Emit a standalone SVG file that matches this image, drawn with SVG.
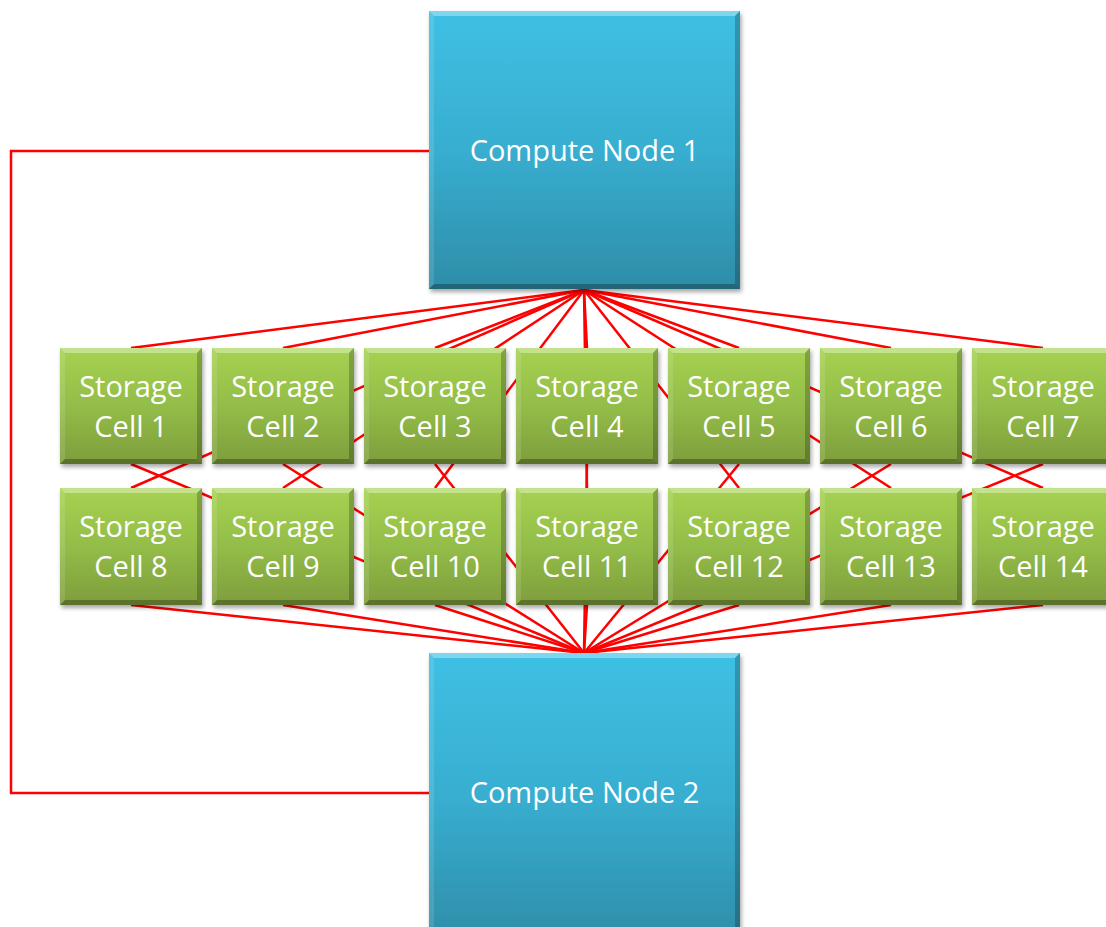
<svg xmlns="http://www.w3.org/2000/svg" width="1106" height="927" viewBox="0 0 1106 927">
<style>
.wire{stroke:#ff0000;stroke-width:2.5;fill:none;stroke-linecap:butt}
.lbl{font-family:"Open Sans","Liberation Sans",sans-serif;font-size:29px;fill:#ffffff;text-anchor:middle}
.cn{fill:url(#gBlue);filter:url(#sh)}
.sc{fill:url(#gGreen);filter:url(#sh)}
.hiT{fill:#ffffff;opacity:0.35}
.hiL{fill:#ffffff;opacity:0.12}
.shR{fill:#000000;opacity:0.22}
.shB{fill:#000000;opacity:0.28}
</style>
<defs>
<linearGradient id="gBlue" x1="0" y1="0" x2="0" y2="1">
<stop offset="0" stop-color="#3ec0e4"/>
<stop offset="0.5" stop-color="#38aed0"/>
<stop offset="1" stop-color="#2e8da8"/>
</linearGradient>
<linearGradient id="gGreen" x1="0" y1="0" x2="0" y2="1">
<stop offset="0" stop-color="#a6d252"/>
<stop offset="0.5" stop-color="#93bd48"/>
<stop offset="1" stop-color="#7e9d3c"/>
</linearGradient>
<filter id="sh" x="-10%" y="-10%" width="120%" height="125%">
<feDropShadow dx="1.5" dy="3" stdDeviation="2" flood-color="#000" flood-opacity="0.35"/>
</filter>
</defs>
<rect width="1106" height="927" fill="#ffffff"/>
<g id="connectors">
<polyline class="wire" points="429,151 11,151 11,793 429,793"/>
<g id="top-fan">
<line class="wire" x1="584" y1="290" x2="131" y2="348"/>
<line class="wire" x1="584" y1="290" x2="283" y2="348"/>
<line class="wire" x1="584" y1="290" x2="435" y2="348"/>
<line class="wire" x1="584" y1="290" x2="587" y2="348"/>
<line class="wire" x1="584" y1="290" x2="739" y2="348"/>
<line class="wire" x1="584" y1="290" x2="891" y2="348"/>
<line class="wire" x1="584" y1="290" x2="1043" y2="348"/>
<line class="wire" x1="584" y1="290" x2="131" y2="488"/>
<line class="wire" x1="584" y1="290" x2="283" y2="488"/>
<line class="wire" x1="584" y1="290" x2="435" y2="488"/>
<line class="wire" x1="584" y1="290" x2="587" y2="488"/>
<line class="wire" x1="584" y1="290" x2="739" y2="488"/>
<line class="wire" x1="584" y1="290" x2="891" y2="488"/>
<line class="wire" x1="584" y1="290" x2="1043" y2="488"/>
</g>
<g id="bottom-fan">
<line class="wire" x1="584" y1="653" x2="131" y2="464"/>
<line class="wire" x1="584" y1="653" x2="283" y2="464"/>
<line class="wire" x1="584" y1="653" x2="435" y2="464"/>
<line class="wire" x1="584" y1="653" x2="587" y2="464"/>
<line class="wire" x1="584" y1="653" x2="739" y2="464"/>
<line class="wire" x1="584" y1="653" x2="891" y2="464"/>
<line class="wire" x1="584" y1="653" x2="1043" y2="464"/>
<line class="wire" x1="584" y1="653" x2="131" y2="605"/>
<line class="wire" x1="584" y1="653" x2="283" y2="605"/>
<line class="wire" x1="584" y1="653" x2="435" y2="605"/>
<line class="wire" x1="584" y1="653" x2="587" y2="605"/>
<line class="wire" x1="584" y1="653" x2="739" y2="605"/>
<line class="wire" x1="584" y1="653" x2="891" y2="605"/>
<line class="wire" x1="584" y1="653" x2="1043" y2="605"/>
</g>
</g>
<g id="compute-node-1">
<rect class="cn" x="429" y="11" width="311" height="278"/>
<polygon class="hiT" points="429,11 740,11 735,16 434,16"/>
<polygon class="hiL" points="429,11 434,16 434,284 429,289"/>
<polygon class="shR" points="740,11 740,289 735,284 735,16"/>
<polygon class="shB" points="429,289 740,289 735,284 434,284"/>
<text class="lbl" x="584.5" y="161">Compute Node 1</text>
</g>
<g id="compute-node-2">
<rect class="cn" x="429" y="653" width="311" height="290"/>
<polygon class="hiT" points="429,653 740,653 735,658 434,658"/>
<polygon class="hiL" points="429,653 434,658 434,940 429,940"/>
<polygon class="shR" points="740,653 740,940 735,940 735,658"/>
<text class="lbl" x="584.5" y="803">Compute Node 2</text>
</g>
<g id="storage-cell-1">
<rect class="sc" x="60" y="348" width="142" height="116"/>
<polygon class="hiT" points="60,348 202,348 197,353 65,353"/>
<polygon class="hiL" points="60,348 65,353 65,459 60,464"/>
<polygon class="shR" points="202,348 202,464 197,459 197,353"/>
<polygon class="shB" points="60,464 202,464 197,459 65,459"/>
<text class="lbl" x="131" y="397">Storage</text><text class="lbl" x="131" y="437">Cell 1</text>
</g>
<g id="storage-cell-2">
<rect class="sc" x="212" y="348" width="142" height="116"/>
<polygon class="hiT" points="212,348 354,348 349,353 217,353"/>
<polygon class="hiL" points="212,348 217,353 217,459 212,464"/>
<polygon class="shR" points="354,348 354,464 349,459 349,353"/>
<polygon class="shB" points="212,464 354,464 349,459 217,459"/>
<text class="lbl" x="283" y="397">Storage</text><text class="lbl" x="283" y="437">Cell 2</text>
</g>
<g id="storage-cell-3">
<rect class="sc" x="364" y="348" width="142" height="116"/>
<polygon class="hiT" points="364,348 506,348 501,353 369,353"/>
<polygon class="hiL" points="364,348 369,353 369,459 364,464"/>
<polygon class="shR" points="506,348 506,464 501,459 501,353"/>
<polygon class="shB" points="364,464 506,464 501,459 369,459"/>
<text class="lbl" x="435" y="397">Storage</text><text class="lbl" x="435" y="437">Cell 3</text>
</g>
<g id="storage-cell-4">
<rect class="sc" x="516" y="348" width="142" height="116"/>
<polygon class="hiT" points="516,348 658,348 653,353 521,353"/>
<polygon class="hiL" points="516,348 521,353 521,459 516,464"/>
<polygon class="shR" points="658,348 658,464 653,459 653,353"/>
<polygon class="shB" points="516,464 658,464 653,459 521,459"/>
<text class="lbl" x="587" y="397">Storage</text><text class="lbl" x="587" y="437">Cell 4</text>
</g>
<g id="storage-cell-5">
<rect class="sc" x="668" y="348" width="142" height="116"/>
<polygon class="hiT" points="668,348 810,348 805,353 673,353"/>
<polygon class="hiL" points="668,348 673,353 673,459 668,464"/>
<polygon class="shR" points="810,348 810,464 805,459 805,353"/>
<polygon class="shB" points="668,464 810,464 805,459 673,459"/>
<text class="lbl" x="739" y="397">Storage</text><text class="lbl" x="739" y="437">Cell 5</text>
</g>
<g id="storage-cell-6">
<rect class="sc" x="820" y="348" width="142" height="116"/>
<polygon class="hiT" points="820,348 962,348 957,353 825,353"/>
<polygon class="hiL" points="820,348 825,353 825,459 820,464"/>
<polygon class="shR" points="962,348 962,464 957,459 957,353"/>
<polygon class="shB" points="820,464 962,464 957,459 825,459"/>
<text class="lbl" x="891" y="397">Storage</text><text class="lbl" x="891" y="437">Cell 6</text>
</g>
<g id="storage-cell-7">
<rect class="sc" x="972" y="348" width="142" height="116"/>
<polygon class="hiT" points="972,348 1114,348 1109,353 977,353"/>
<polygon class="hiL" points="972,348 977,353 977,459 972,464"/>
<polygon class="shB" points="972,464 1114,464 1109,459 977,459"/>
<text class="lbl" x="1043" y="397">Storage</text><text class="lbl" x="1043" y="437">Cell 7</text>
</g>
<g id="storage-cell-8">
<rect class="sc" x="60" y="488" width="142" height="117"/>
<polygon class="hiT" points="60,488 202,488 197,493 65,493"/>
<polygon class="hiL" points="60,488 65,493 65,600 60,605"/>
<polygon class="shR" points="202,488 202,605 197,600 197,493"/>
<polygon class="shB" points="60,605 202,605 197,600 65,600"/>
<text class="lbl" x="131" y="537">Storage</text><text class="lbl" x="131" y="577">Cell 8</text>
</g>
<g id="storage-cell-9">
<rect class="sc" x="212" y="488" width="142" height="117"/>
<polygon class="hiT" points="212,488 354,488 349,493 217,493"/>
<polygon class="hiL" points="212,488 217,493 217,600 212,605"/>
<polygon class="shR" points="354,488 354,605 349,600 349,493"/>
<polygon class="shB" points="212,605 354,605 349,600 217,600"/>
<text class="lbl" x="283" y="537">Storage</text><text class="lbl" x="283" y="577">Cell 9</text>
</g>
<g id="storage-cell-10">
<rect class="sc" x="364" y="488" width="142" height="117"/>
<polygon class="hiT" points="364,488 506,488 501,493 369,493"/>
<polygon class="hiL" points="364,488 369,493 369,600 364,605"/>
<polygon class="shR" points="506,488 506,605 501,600 501,493"/>
<polygon class="shB" points="364,605 506,605 501,600 369,600"/>
<text class="lbl" x="435" y="537">Storage</text><text class="lbl" x="435" y="577">Cell 10</text>
</g>
<g id="storage-cell-11">
<rect class="sc" x="516" y="488" width="142" height="117"/>
<polygon class="hiT" points="516,488 658,488 653,493 521,493"/>
<polygon class="hiL" points="516,488 521,493 521,600 516,605"/>
<polygon class="shR" points="658,488 658,605 653,600 653,493"/>
<polygon class="shB" points="516,605 658,605 653,600 521,600"/>
<text class="lbl" x="587" y="537">Storage</text><text class="lbl" x="587" y="577">Cell 11</text>
</g>
<g id="storage-cell-12">
<rect class="sc" x="668" y="488" width="142" height="117"/>
<polygon class="hiT" points="668,488 810,488 805,493 673,493"/>
<polygon class="hiL" points="668,488 673,493 673,600 668,605"/>
<polygon class="shR" points="810,488 810,605 805,600 805,493"/>
<polygon class="shB" points="668,605 810,605 805,600 673,600"/>
<text class="lbl" x="739" y="537">Storage</text><text class="lbl" x="739" y="577">Cell 12</text>
</g>
<g id="storage-cell-13">
<rect class="sc" x="820" y="488" width="142" height="117"/>
<polygon class="hiT" points="820,488 962,488 957,493 825,493"/>
<polygon class="hiL" points="820,488 825,493 825,600 820,605"/>
<polygon class="shR" points="962,488 962,605 957,600 957,493"/>
<polygon class="shB" points="820,605 962,605 957,600 825,600"/>
<text class="lbl" x="891" y="537">Storage</text><text class="lbl" x="891" y="577">Cell 13</text>
</g>
<g id="storage-cell-14">
<rect class="sc" x="972" y="488" width="142" height="117"/>
<polygon class="hiT" points="972,488 1114,488 1109,493 977,493"/>
<polygon class="hiL" points="972,488 977,493 977,600 972,605"/>
<polygon class="shB" points="972,605 1114,605 1109,600 977,600"/>
<text class="lbl" x="1043" y="537">Storage</text><text class="lbl" x="1043" y="577">Cell 14</text>
</g>
</svg>
